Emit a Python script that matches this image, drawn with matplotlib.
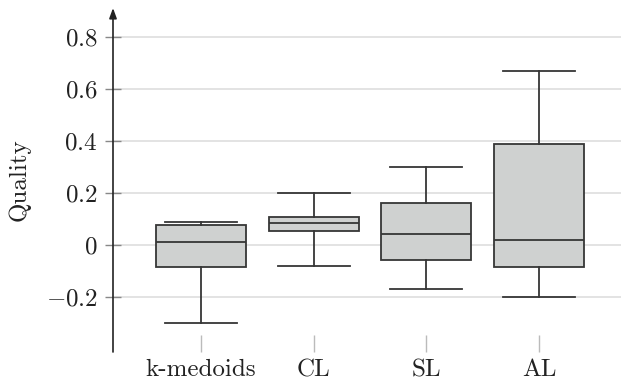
import matplotlib
matplotlib.use("Agg")
import matplotlib.pyplot as plt

categories = ["k-medoids", "CL", "SL", "AL"]
whisker_low = [-0.30, -0.081, -0.169, -0.201]
q1 = [-0.086, 0.054, -0.058, -0.086]
median = [0.010, 0.085, 0.041, 0.019]
q3 = [0.077, 0.107, 0.162, 0.39]
whisker_high = [0.088, 0.20, 0.30, 0.67]
yticks = [-0.2, 0.0, 0.2, 0.4, 0.6, 0.8]
ytick_labels = [r"$-0.2$", r"$0$", r"$0.2$", r"$0.4$", r"$0.6$", r"$0.8$"]

plt.rcParams["font.family"] = ["cmr10", "DejaVu Serif"]
plt.rcParams["mathtext.fontset"] = "cm"
plt.rcParams["axes.formatter.use_mathtext"] = True

W, H = 621, 383
fig = plt.figure(figsize=(W / 100, H / 100), dpi=100)
ax = fig.add_axes([113 / W, 1 - 352 / H, 1 - 113 / W, (352 - 8) / H])

stats = []
for c, lo, a, m, b, hi in zip(categories, whisker_low, q1, median, q3, whisker_high):
    stats.append(dict(label=c, whislo=lo, q1=a, med=m, q3=b, whishi=hi, fliers=[]))

edge = "#363636"
ax.bxp(stats, positions=range(1, len(categories) + 1), widths=0.8, patch_artist=True,
       showfliers=False,
       boxprops=dict(facecolor="#cfd1d0", edgecolor=edge, linewidth=1.3),
       medianprops=dict(color=edge, linewidth=1.3),
       whiskerprops=dict(color=edge, linewidth=1.3),
       capprops=dict(color=edge, linewidth=1.3),
       capwidths=0.64)

ax.set_xlim(1 - 88 / 112.7, 1 + (621 - 201) / 112.7)
ax.set_ylim((245 - 352) / 260, (245 - 8) / 260)

ax.set_yticks(yticks)
ax.set_yticklabels(ytick_labels)
ax.set_xticks(range(1, len(categories) + 1))
ax.set_xticklabels(categories)

for s in ["top", "right", "bottom", "left"]:
    ax.spines[s].set_visible(False)

ax.yaxis.grid(True, color="#dedede", linewidth=1.2)
ax.set_axisbelow(True)

ax.tick_params(axis="y", direction="inout", length=12, width=1.0, color="#888888",
               labelsize=18, pad=5, labelcolor="#222222")
ax.tick_params(axis="x", direction="in", length=12, width=1.0, color="#bbbbbb",
               labelsize=18, pad=5, labelcolor="#222222")

ax.annotate("", xy=(0, 1), xycoords="axes fraction", xytext=(0, 0),
            textcoords="axes fraction",
            arrowprops=dict(arrowstyle="-|>,head_length=0.6,head_width=0.22",
                            color="#222222", linewidth=1.2, shrinkA=0, shrinkB=0))

ax.set_ylabel("Quality", fontsize=18, color="#222222", labelpad=11)

fig.savefig("out.png", dpi=100)
